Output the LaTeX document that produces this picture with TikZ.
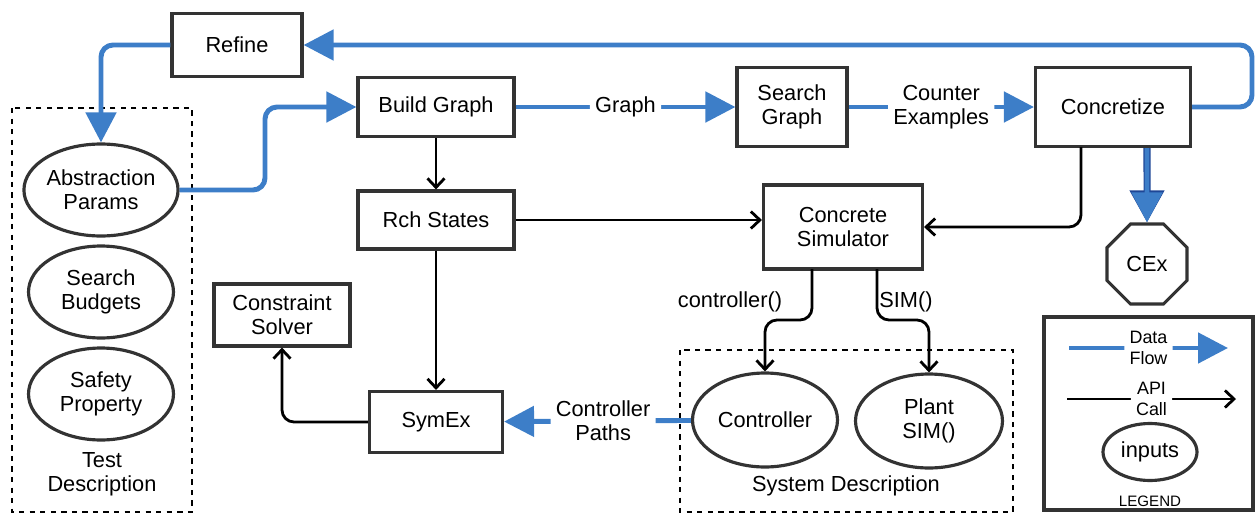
\documentclass[tikz,border=0pt]{standalone}
\usepackage{fontspec}
\setmainfont{Liberation Sans}
\usetikzlibrary{arrows.meta,shapes.geometric}
\definecolor{flowblue}{RGB}{61,126,200}
\definecolor{flowdark}{RGB}{30,70,150}
\definecolor{boxgray}{RGB}{51,51,51}
\tikzset{
  box/.style={draw=boxgray,line width=1.8pt,fill=white,align=center,inner sep=2pt},
  param/.style={ellipse,draw=boxgray,line width=1.8pt,align=center,inner sep=0pt,
    minimum width=2.9cm,minimum height=1.84cm},
  flow/.style={flowblue,line width=2.8pt,rounded corners=0.24cm,
    -{Triangle[length=0.6cm,width=0.6cm]}},
  api/.style={black,line width=1.6pt,rounded corners=0.24cm,
    -{Straight Barb[length=1.8mm,width=3.4mm]}},
  tag/.style={fill=white,text=black,align=center,inner sep=3pt},
  group/.style={draw,dashed,line width=0.7pt}
}
\begin{document}
\begin{tikzpicture}[x=0.02cm,y=-0.02cm,font=\fontsize{12.4}{13.8}\selectfont]
\useasboundingbox (0,0) rectangle (1258,514);

\node [box,minimum width=2.6cm,minimum height=1.26cm] (refine) at (237,45) {Refine};
\node [box,minimum width=3.12cm,minimum height=1.18cm] (build) at (436,107) {Build Graph};
\node [box,minimum width=2.2cm,minimum height=1.58cm] (search) at (792,107) {Search\\Graph};
\node [box,minimum width=3.1cm,minimum height=1.58cm] (concr) at (1113,107) {Concretize};
\node [box,minimum width=3.12cm,minimum height=1.16cm] (rch) at (436,220) {Rch States};
\node [box,minimum width=3.18cm,minimum height=1.68cm] (sim) at (843,227) {Concrete\\Simulator};
\node [box,minimum width=2.72cm,minimum height=1.24cm] (solver) at (282,315) {Constraint\\Solver};
\node [box,minimum width=2.66cm,minimum height=1.22cm] (symex) at (436,422) {SymEx};
\node [draw=boxgray,line width=1.8pt,regular polygon,regular polygon sides=8,
  minimum size=1.73cm,inner sep=0pt] (cex) at (1147,264) {CEx};

% test description
\draw [group] (12,108) rectangle (192,512);
\node [param] (abs) at (101,190) {Abstraction\\Params};
\node [param] (budget) at (101,292) {Search\\Budgets};
\node [param] (safety) at (101,394) {Safety\\Property};
\node [align=center] (testdesc) at (102,474) {Test\\Description};

% system description
\draw [group] (680,350) rectangle (1013,512);
\node [param,minimum width=2.9cm,minimum height=1.88cm] (ctrl) at (765,420) {Controller};
\node [param,minimum width=2.94cm,minimum height=1.88cm] (plant) at (929,421) {Plant\\SIM()};
\node (sysdesc) at (846,486) {System Description};

% data flow
\draw [flow] (concr.east) -- (1252,107) -- (1252,45) -- (refine.east);
\draw [flow] (refine.west) -- (101,45) -- (abs.north);
\draw [flow] (abs.east) -- (265,190) -- (265,107) -- (build.west);
\draw [flow] (build) -- node [tag] {Graph} (search);
\draw [flow] (search) -- node [tag] {Counter\\Examples} (concr);
\draw [flow] (ctrl) -- node [tag,pos=.47] {Controller\\Paths} (symex);
\draw [flow,preaction={draw=flowdark,line width=4pt,-{Triangle[length=0.64cm,width=0.66cm]}}]
  (concr.south -| cex) -- (cex.north);

% api calls
\draw [api] (build) -- (rch);
\draw [api] (rch.east) -- (rch.east -| sim.west);
\draw [api] (rch) -- (symex);
\draw [api] (1081,147) |- (sim.east);
\draw [api] (symex.west) -| (solver.south);
\draw [api] (812,269) -- (812,320) -- (765,320) -- (ctrl.north);
\draw [api] (877,269) -- (877,320) -- (929,320) -- (plant.north);
\node (ctrlcall) at (730,302) {controller()};
\node (simcall) at (906,302) {SIM()};

% legend
\draw [boxgray,line width=2pt] (1044,317) rectangle (1253,510);
\coordinate (lf1) at (1069,348);
\coordinate (lf2) at (1228,348);
\coordinate (la1) at (1067,399);
\coordinate (la2) at (1236,399);
\draw [flow] (lf1) -- node [tag,font=\fontsize{10.2}{12}\selectfont] {Data\\Flow} (lf2);
\draw [api] (la1) -- node [tag,font=\fontsize{10.2}{12}\selectfont] {API\\Call} (la2);
\node [param,minimum width=1.88cm,minimum height=1.14cm] (inputs) at (1150,452) {inputs};
\node [font=\fontsize{8.6}{10}\selectfont] (legend) at (1150,501) {LEGEND};
\end{tikzpicture}
\end{document}
